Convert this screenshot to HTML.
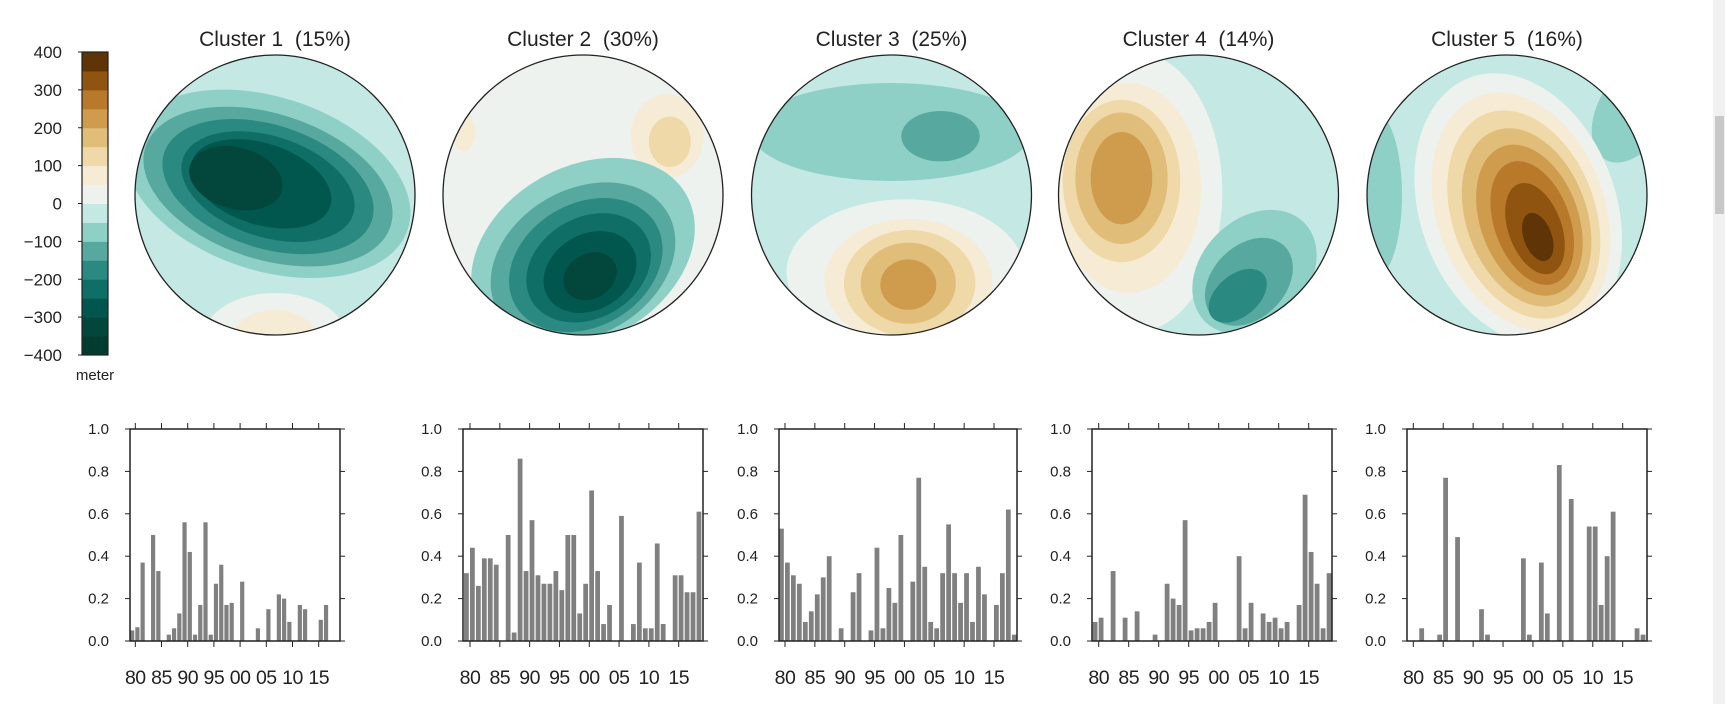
<!DOCTYPE html>
<html><head><meta charset="utf-8"><style>
html,body{margin:0;padding:0;background:#fff;width:1725px;height:704px;overflow:hidden}
svg{display:block}
text{font-family:"Liberation Sans","DejaVu Sans",sans-serif;fill:#222}
</style></head><body>
<svg id="fig" width="1725" height="704" viewBox="0 0 1725 704" xmlns="http://www.w3.org/2000/svg">
<rect x="0" y="0" width="1725" height="704" fill="#fff"/>
<rect x="1713" y="0" width="12" height="704" fill="#f1f1f1"/>
<rect x="1715" y="116" width="9" height="98" fill="#c8c8c8"/>
<g id="cbar"></g>
<g id="maps"></g>
<g id="bars"></g>
</svg>
<script>
const NS="http://www.w3.org/2000/svg";
function mk(tag,attrs,parent){const e=document.createElementNS(NS,tag);for(const k in attrs)e.setAttribute(k,attrs[k]);if(parent)parent.appendChild(e);return e;}

const levelColors=["#003c30","#02463c","#01574e","#0f6e65","#2a8a81","#57a99f","#8fd0c6","#c4e8e3","#edf2ef","#f6ecd6","#efd9a8","#e1bd7a","#cf9b4d","#b87a2a","#8f5510","#5f3406"];
const cbTicks=[400,300,200,100,0,-100,-200,-300,-400];
const cbLabels=["400","300","200","100","0","\u2212100","\u2212200","\u2212300","\u2212400"];

const cb=document.getElementById('cbar');
const cbTop=52,cbBot=355,cbL=82,cbW=26;
function cbY(v){return cbBot-(v+400)/800*(cbBot-cbTop);}
levelColors.forEach((c,i)=>{const r=mk('rect',{x:cbL,y:cbY(-400+(i+1)*50),width:cbW,height:cbY(-400+i*50)-cbY(-400+(i+1)*50)+0.5,fill:c},cb);

});
mk('rect',{x:cbL,y:cbTop,width:cbW,height:cbBot-cbTop,fill:'none',stroke:'#222','stroke-width':1.2},cb);
cbTicks.forEach((v,i)=>{const y=cbY(v);mk('line',{x1:cbL-4,x2:cbL,y1:y,y2:y,stroke:'#222','stroke-width':1},cb);
const t=mk('text',{x:cbL-20,y:y+6,'text-anchor':'end','font-size':17},cb);t.textContent=cbLabels[i];

});
const mt=mk('text',{x:95,y:380,'text-anchor':'middle','font-size':15},cb);mt.textContent='meter';



const clusterTitles=["Cluster 1\u00a0\u00a0(15%)","Cluster 2\u00a0\u00a0(30%)","Cluster 3\u00a0\u00a0(25%)","Cluster 4\u00a0\u00a0(14%)","Cluster 5\u00a0\u00a0(16%)"];
const mapCenters=[275,583,891.5,1198.5,1507];
const mapCY=195,mapR=140;
const mapBg=[7,8,7,7,7];
const mapBlobs=[
 [[8,0,1.0,0.5,0.3,0],[9,0,1.02,0.3,0.2,0],[6,-0.05,-0.08,1.05,0.62,18],[5,-0.05,-0.06,0.92,0.52,18],[4,-0.05,-0.06,0.78,0.44,18],[3,-0.05,-0.06,0.64,0.36,18],[2,-0.1,-0.08,0.52,0.29,18],[1,-0.28,-0.12,0.34,0.22,15]],
 [[9,0.6,-0.42,0.26,0.3,0],[10,0.62,-0.38,0.15,0.18,0],[9,-0.85,-0.45,0.08,0.14,0],[6,0,0.42,0.85,0.62,-30],[5,0,0.48,0.7,0.52,-30],[4,0.02,0.5,0.58,0.44,-30],[3,0.04,0.52,0.47,0.36,-30],[2,0.05,0.55,0.35,0.27,-30],[1,0.05,0.58,0.2,0.16,-30]],
 [[6,0,-0.45,1.0,0.35,0],[5,0.35,-0.42,0.28,0.18,0],[8,0.1,0.55,0.85,0.52,0],[9,0.12,0.62,0.6,0.45,0],[10,0.13,0.63,0.47,0.38,0],[11,0.12,0.63,0.34,0.29,0],[12,0.12,0.64,0.2,0.18,0]],
 [[8,-0.45,-0.02,0.62,1.0,0],[9,-0.5,-0.05,0.52,0.75,0],[10,-0.55,-0.1,0.42,0.58,0],[11,-0.55,-0.12,0.33,0.47,0],[12,-0.55,-0.12,0.22,0.33,0],[6,0.4,0.55,0.5,0.38,-45],[5,0.36,0.62,0.36,0.26,-45],[4,0.28,0.72,0.24,0.15,-40]],
 [[6,-0.95,0.0,0.2,0.6,0],[6,0.9,-0.6,0.25,0.4,30],[8,0.08,0.1,0.7,1.0,-20],[9,0.1,0.12,0.6,0.88,-20],[10,0.12,0.14,0.51,0.77,-20],[11,0.14,0.16,0.43,0.66,-20],[12,0.16,0.18,0.35,0.56,-20],[13,0.18,0.2,0.27,0.46,-20],[14,0.2,0.24,0.19,0.34,-20],[15,0.22,0.3,0.1,0.18,-20]]
];
const maps=document.getElementById('maps');
clusterTitles.forEach((title,i)=>{
 const cx=mapCenters[i];
 const g=mk('g',{},maps);
 
 
 const t=mk('text',{x:cx,y:46,'text-anchor':'middle','font-size':21},g);t.textContent=title;
 
 
 const cp=mk('clipPath',{id:'clip'+i},g);mk('circle',{cx:cx,cy:mapCY,r:mapR},cp);
 const inner=mk('g',{'clip-path':'url(#clip'+i+')'},g);
 mk('rect',{x:cx-mapR,y:mapCY-mapR,width:2*mapR,height:2*mapR,fill:levelColors[mapBg[i]]},inner);
 mapBlobs[i].forEach(b=>{
  const ex=cx+b[1]*mapR,ey=mapCY+b[2]*mapR;
  const e=mk('ellipse',{cx:ex,cy:ey,rx:b[3]*mapR,ry:b[4]*mapR,fill:levelColors[b[0]],transform:'rotate('+b[5]+' '+ex+' '+ey+')'},inner);
  
  
 });
 const c=mk('circle',{cx:cx,cy:mapCY,r:mapR,fill:'none',stroke:'#222','stroke-width':1.3},g);
 
 
});

const years=[1979,1980,1981,1982,1983,1984,1985,1986,1987,1988,1989,1990,1991,1992,1993,1994,1995,1996,1997,1998,1999,2000,2001,2002,2003,2004,2005,2006,2007,2008,2009,2010,2011,2012,2013,2014,2015,2016,2017,2018];
const freq1=[0.05,0.065,0.37,0,0.50,0.33,0,0.03,0.06,0.13,0.56,0.42,0.03,0.17,0.56,0.03,0.27,0.36,0.17,0.18,0,0.28,0,0,0.06,0,0.15,0,0.22,0.20,0.09,0,0.17,0.15,0,0,0.10,0.17,0,0];
const freq2=[0.32,0.44,0.26,0.39,0.39,0.36,0,0.50,0.04,0.86,0.33,0.57,0.31,0.27,0.27,0.33,0.24,0.50,0.50,0.13,0.27,0.71,0.33,0.08,0.17,0,0.59,0,0.08,0.37,0.06,0.06,0.46,0.08,0,0.31,0.31,0.23,0.23,0.61];
const freq3=[0.53,0.37,0.31,0.27,0.09,0.14,0.22,0.30,0.40,0,0.06,0,0.23,0.32,0,0.05,0.44,0.06,0.25,0.18,0.50,0,0.28,0.77,0.35,0.09,0.06,0.32,0.55,0.32,0.18,0.32,0.09,0.35,0.22,0,0.17,0.32,0.62,0.03];
const freq4=[0.09,0.11,0,0.33,0,0.11,0,0.14,0,0,0.03,0,0.27,0.20,0.17,0.57,0.05,0.06,0.06,0.09,0.18,0,0,0,0.40,0.06,0.18,0,0.13,0.09,0.11,0.06,0.09,0,0.17,0.69,0.42,0.27,0.06,0.32];
const freq5=[0,0,0.06,0,0,0.03,0.77,0,0.49,0,0,0,0.15,0.03,0,0,0,0,0,0.39,0.03,0,0.37,0.13,0,0.83,0,0.67,0,0,0.54,0.54,0.17,0.40,0.61,0,0,0,0.06,0.03];
const yTicks=[0,0.2,0.4,0.6,0.8,1.0];
const yTickLabels=["0.0","0.2","0.4","0.6","0.8","1.0"];
const xTicks=[1980,1985,1990,1995,2000,2005,2010,2015];
const xTickLabels=["80","85","90","95","00","05","10","15"];

const allFreq=[freq1,freq2,freq3,freq4,freq5];
const panelL=[130,463,779,1092,1407],panelR=[340,703,1017,1332,1647];
const tick80=[135.3,470,785,1098.7,1413.3],tick15=[318.7,678.7,994,1308.7,1622.7];
const pTop=429,pBot=641,barW=0.8;
const bars=document.getElementById('bars');
allFreq.forEach((vals,p)=>{
 const g=mk('g',{},bars);
 
 
 const L=panelL[p],R=panelR[p];
 const pxPerYr=(tick15[p]-tick80[p])/35;
 const xS=y=>tick80[p]+(y-1980)*pxPerYr;
 const yS=v=>pBot-v*(pBot-pTop);
 const cp=mk('clipPath',{id:'bclip'+p},g);mk('rect',{x:L,y:pTop,width:R-L,height:pBot-pTop},cp);
 const bg=mk('g',{'clip-path':'url(#bclip'+p+')'},g);
 vals.forEach((v,i)=>{ if(v<=0)return;
  const x0=xS(years[i]),x1=xS(years[i]+barW);
  const r=mk('rect',{x:x0,y:yS(v),width:x1-x0,height:pBot-yS(v),fill:'#808080'},bg);
  
  
 });
 mk('rect',{x:L,y:pTop,width:R-L,height:pBot-pTop,fill:'none',stroke:'#222','stroke-width':1.5},g);
 yTicks.forEach((v,i)=>{const y=yS(v);
  mk('line',{x1:L-5,x2:L,y1:y,y2:y,stroke:'#222','stroke-width':1},g);
  mk('line',{x1:R,x2:R+5,y1:y,y2:y,stroke:'#222','stroke-width':1},g);
  const t=mk('text',{x:L-21,y:y+5,'text-anchor':'end','font-size':15},g);t.textContent=yTickLabels[i];
  
  
 });
 xTicks.forEach((yr,i)=>{const x=xS(yr);
  mk('line',{x1:x,x2:x,y1:pTop-6,y2:pTop,stroke:'#222','stroke-width':1},g);
  mk('line',{x1:x,x2:x,y1:pBot,y2:pBot+6,stroke:'#222','stroke-width':1},g);
  const t=mk('text',{x:x,y:684,'text-anchor':'middle','font-size':19.5,'letter-spacing':'-0.5'},g);t.textContent=xTickLabels[i];
  
  
 });
});
</script>
</body></html>
